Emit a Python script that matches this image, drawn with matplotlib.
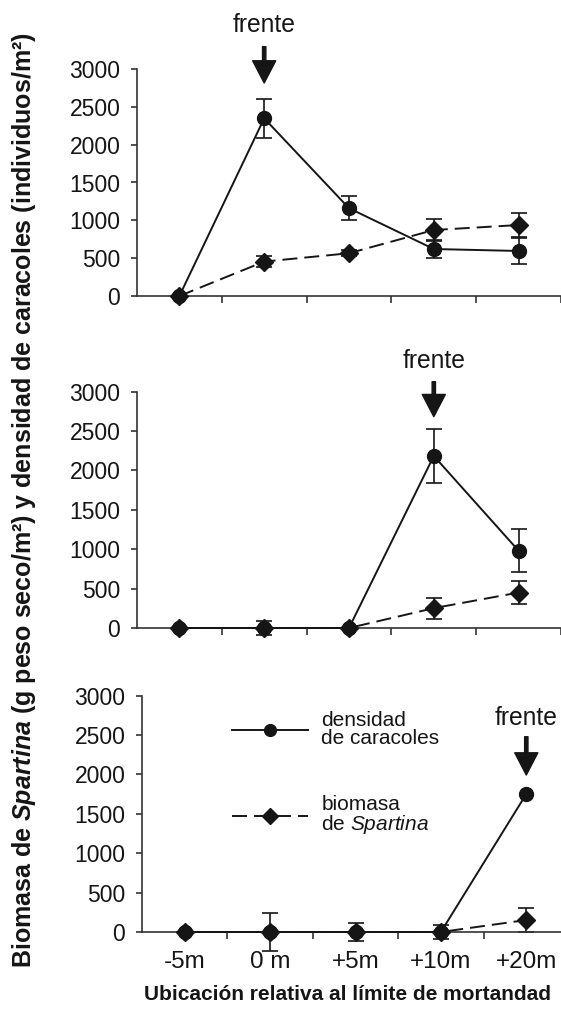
import numpy as np
from matplotlib import pyplot as plt

plt.rcParams['font.family'] = ['Liberation Sans', 'DejaVu Sans']
plt.rcParams['mathtext.fontset'] = 'custom'
plt.rcParams['mathtext.rm'] = 'Liberation Sans'
plt.rcParams['mathtext.it'] = 'Liberation Sans:italic'
plt.rcParams['mathtext.bf'] = 'Liberation Sans:bold'
plt.rcParams['mathtext.bfit'] = 'Liberation Sans:bold:italic'

x_labels = ['-5m', '0 m', '+5m', '+10m', '+20m']

# panel 1 (frente en 0 m)
car1 = [0, 2348, 1160, 621, 595]
car1_err = [0, 255, 155, 123, 178]
bio1 = [0, 455, 565, 872, 938]
bio1_err = [0, 70, 40, 141, 158]

# panel 2 (frente en +10m)
car2 = [0, 0, 0, 2184, 981]
car2_err = [0, 0, 0, 345, 275]
bio2 = [0, 0, 0, 252, 450]
bio2_err = [0, 85, 0, 135, 150]

# panel 3 (frente en +20m)
car3 = [0, 0, 0, 0, 1752]
car3_err = [0, 0, 0, 0, 0]
bio3 = [0, 0, 0, 0, 152]
bio3_err = [0, 245, 115, 95, 157]

# posicion de la flecha "frente": indice, punta, inicio, texto
frente_idx = [1, 3, 4]
frente_tip = [2815, 2683, 1993]
frente_top = [3295, 3127, 2479]
frente_txt = [3489, 3301, 2628]

INK = '#151515'


def draw_panel(ax, car, car_err, bio, bio_err, show_labels):
    x = np.arange(len(x_labels))
    car = np.array(car, dtype=float)
    bio = np.array(bio, dtype=float)
    car_err = np.array(car_err, dtype=float)
    bio_err = np.array(bio_err, dtype=float)

    for vals, err in [(car, car_err), (bio, bio_err)]:
        m = err > 0
        ax.errorbar(x[m], vals[m], yerr=err[m], fmt='none', ecolor=INK,
                    elinewidth=1.2, capsize=5.5, capthick=1.2, zorder=2,
                    clip_on=False)

    l1, = ax.plot(x, car, '-', color=INK, lw=1.4, marker='o', ms=10,
                  mfc=INK, mec=INK, zorder=3, clip_on=False,
                  label='densidad\nde caracoles')
    l2, = ax.plot(x, bio, color=INK, lw=1.4, marker='D', ms=9.5,
                  mfc=INK, mec=INK, zorder=4, clip_on=False,
                  dashes=(7.7, 3.6), label='biomasa\nde $\\it{Spartina}$')

    ax.set_xlim(-0.5, 4.5)
    ax.set_ylim(0, 3000)
    ax.set_yticks(np.arange(0, 3001, 500))
    ax.set_xticks(x)
    ax.set_xticks(x + 0.5, minor=True)
    ax.spines['top'].set_visible(False)
    ax.spines['right'].set_visible(False)
    for s in ['left', 'bottom']:
        ax.spines[s].set_linewidth(1.2)
        ax.spines[s].set_color('#333333')
    ax.tick_params(axis='y', length=4, width=1.2, color='#333333',
                   labelsize=16.5, labelcolor=INK, pad=8)
    ax.tick_params(axis='x', which='minor', length=5, width=1.2, color='#333333')
    ax.tick_params(axis='x', which='major', length=0, labelsize=17.5,
                   labelcolor=INK, pad=14)
    if show_labels:
        ax.set_xticklabels(x_labels)
    else:
        ax.set_xticklabels([])
    return l1, l2


fig = plt.figure(figsize=(5.61, 10.09), dpi=100)
ax1 = fig.add_axes([137 / 561, 1 - 296 / 1009, 424 / 561, 227 / 1009])
ax2 = fig.add_axes([137 / 561, 1 - 628 / 1009, 424 / 561, 236.3 / 1009])
ax3 = fig.add_axes([142 / 561, 1 - 932 / 1009, 427 / 561, 236.3 / 1009])

draw_panel(ax1, car1, car1_err, bio1, bio1_err, False)
draw_panel(ax2, car2, car2_err, bio2, bio2_err, False)
h1, h2 = draw_panel(ax3, car3, car3_err, bio3, bio3_err, True)

for ax, xi, tip, top, ty in zip([ax1, ax2, ax3], frente_idx, frente_tip,
                                frente_top, frente_txt):
    ax.annotate('', xy=(xi, tip), xytext=(xi, top),
                arrowprops=dict(width=2.4, headwidth=16.6, headlength=16,
                                shrink=0, color=INK),
                annotation_clip=False)
    ax.text(xi, ty, 'frente', ha='center', va='baseline',
            fontsize=17.7, color=INK, clip_on=False)

leg = ax3.legend(handles=[h1, h2], loc='upper left',
                 bbox_to_anchor=(0.211, 0.935), frameon=False, fontsize=15,
                 handlelength=3.65, handletextpad=0.63, labelspacing=2.3,
                 borderpad=0, borderaxespad=0, markerscale=0.85)
for t in leg.get_texts():
    t.set_linespacing(0.9)
    t.set_color(INK)

fig.text(0.0428, 0.5045,
         'Biomasa de $\\mathbfit{Spartina}$ (g peso seco/m²) y densidad de caracoles (individuos/m²)',
         rotation=90, ha='center', va='center', fontsize=18, fontweight='bold',
         color=INK)
fig.text(347 / 561, 1 - 994 / 1009, 'Ubicación relativa al límite de mortandad',
         ha='center', va='center', fontsize=15, fontweight='bold', color=INK)

fig.savefig('out.png', dpi=100)
